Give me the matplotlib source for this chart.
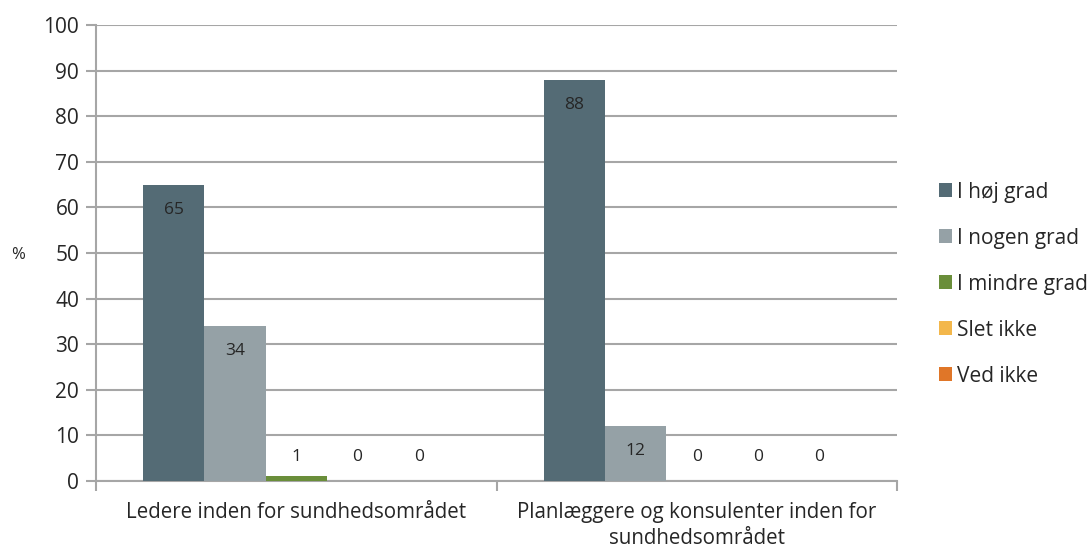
import matplotlib
matplotlib.use('Agg')
import matplotlib.pyplot as plt
import numpy as np

categories = ['Ledere inden for sundhedsområdet',
              'Planlæggere og konsulenter inden for\nsundhedsområdet']
series = ['I høj grad', 'I nogen grad', 'I mindre grad', 'Slet ikke', 'Ved ikke']
values = [[65, 88],
          [34, 12],
          [1, 0],
          [0, 0],
          [0, 0]]
colors = ['#546B75', '#95A1A6', '#6A8E3A', '#F3B74B', '#E07628']

plt.rcParams['font.family'] = ['Open Sans', 'DejaVu Sans']

fig = plt.figure(figsize=(10.89, 5.5), dpi=100)
ax = fig.add_axes([0.088, 0.1255, 0.736, 0.829])

centers = np.arange(len(categories)) + 0.5
w = 0.153
grid_c = '#A6A6A6'
txt_c = '#262626'

for i, (name, vals) in enumerate(zip(series, values)):
    x = centers + (i - 2) * w
    ax.bar(x, vals, width=w, color=colors[i], label=name, zorder=3)
    for xx, v in zip(x, vals):
        if v >= 10:
            ax.annotate(str(v), (xx, v), xytext=(0, -18), textcoords='offset points',
                        ha='center', va='center', fontsize=12.5, color=txt_c, zorder=4)
        else:
            ax.annotate(str(v), (xx, 0), xytext=(0, 17.5), textcoords='offset points',
                        ha='center', va='center', fontsize=12.5, color=txt_c, zorder=4)

ax.set_xlim(0, 2)
ax.set_ylim(0, 100)
ax.set_yticks(np.arange(0, 101, 10))
ax.yaxis.grid(True, color=grid_c, lw=1.5, zorder=0)

ax.set_xticks([0, 1, 2])
ax.set_xticklabels([])
ax.set_xticks(centers, minor=True)
ax.set_xticklabels(categories, minor=True, fontsize=14.8, color=txt_c, linespacing=1.3)
ax.tick_params(axis='x', which='minor', length=0, pad=15)
ax.tick_params(axis='x', which='major', length=7, width=1.5, color=grid_c)
ax.tick_params(axis='y', length=7, width=1.5, color=grid_c, labelsize=15,
               labelcolor=txt_c, pad=5)

for s in ['top', 'right']:
    ax.spines[s].set_visible(False)
for s in ['left', 'bottom']:
    ax.spines[s].set_color(grid_c)
    ax.spines[s].set_linewidth(1.5)

fig.text(0.017, 0.536, '%', fontsize=12, color=txt_c, ha='center', va='center')

leg = ax.legend(loc='center left', bbox_to_anchor=(1.041, 0.432), frameon=False,
                fontsize=15, handlelength=0.65, handleheight=0.65, handletextpad=0.25,
                labelspacing=1.2, labelcolor=txt_c, borderaxespad=0)

fig.savefig('out.png', dpi=100)
